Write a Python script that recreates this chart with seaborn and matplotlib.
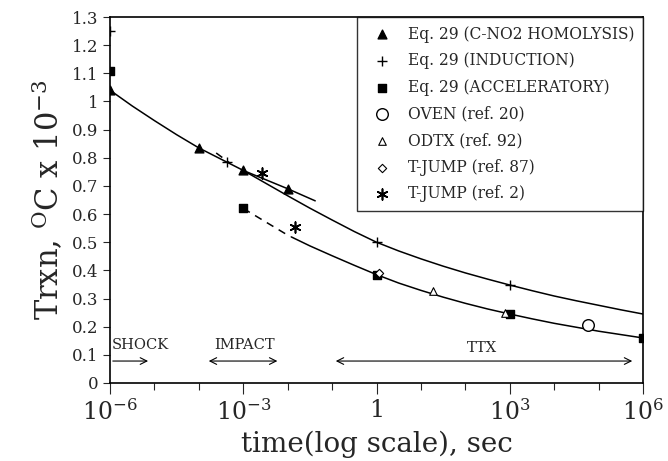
import numpy as np
import pandas as pd
import matplotlib
matplotlib.use('Agg')
import matplotlib.pyplot as plt
import seaborn as sns

# points (time in s, Trxn in 1e3 C)
homol_x = [1e-6, 1e-4, 1e-3, 1e-2]
homol_y = [1.04, 0.835, 0.755, 0.69]
induct_x = [1e-6, 10**-3.36, 1, 1e3]
induct_y = [1.25, 0.785, 0.50, 0.348]
accel_x = [1e-6, 1e-3, 1, 1e3, 1e6]
accel_y = [1.11, 0.62, 0.385, 0.245, 0.16]
oven_x = [10**4.77]
oven_y = [0.205]
odtx_x = [10**1.27, 10**2.9]
odtx_y = [0.327, 0.25]
tj87_x = [1.15]
tj87_y = [0.39]
tj2_x = [10**-2.58, 10**-1.83]
tj2_y = [0.745, 0.554]

# curves (log10 time, value)
upper_lx = [-6, -5.5, -5, -4.5, -4, -3.5, -3, -2.5, -2, -1.5, -1, -0.5, 0,
            0.5, 1, 1.5, 2, 2.5, 3, 3.5, 4, 4.5, 5, 5.5, 6]
upper_y = [1.04, 0.984, 0.932, 0.882, 0.835, 0.795, 0.755, 0.710, 0.665, 0.621,
           0.579, 0.538, 0.50, 0.469, 0.441, 0.415, 0.391, 0.369, 0.348, 0.328,
           0.309, 0.292, 0.276, 0.26, 0.245]
branch_lx = [-3, -2, -1.38]
branch_y = [0.755, 0.69, 0.647]
lower_lx = [-1.92, -1.5, -1, -0.5, 0, 0.5, 1, 1.5, 2, 2.5, 3, 3.5, 4, 4.5, 5, 5.5, 6]
lower_y = [0.519, 0.487, 0.452, 0.418, 0.385, 0.355, 0.329, 0.305, 0.283, 0.263,
           0.245, 0.228, 0.212, 0.198, 0.184, 0.172, 0.16]
dash1_lx = [-3, -2.04]
dash1_y = [0.62, 0.529]
dash2_lx = [-3.61, -3.30]
dash2_y = [0.817, 0.781]

sns.set_theme(style="ticks")
plt.rcParams['font.family'] = ['DejaVu Serif']
plt.rcParams['mathtext.fontset'] = 'dejavuserif'

fig = plt.figure(figsize=(6.68, 4.61), dpi=100)
ax = fig.add_axes([0.1647, 0.1692, 0.7979, 0.7939])

def curve(lx, y, ls='-'):
    d = pd.DataFrame({'t': np.power(10.0, lx), 'v': y})
    sns.lineplot(data=d, x='t', y='v', ax=ax, color='black', lw=1.1,
                 linestyle=ls, legend=False, sort=False)

curve(upper_lx, upper_y)
curve(branch_lx, branch_y)
curve(lower_lx, lower_y)
curve(dash1_lx, dash1_y, (0, (5, 4)))
curve(dash2_lx, dash2_y, (0, (5, 4)))

def pts(x, y, m, label, s=40, fc='black', lw=1.0):
    sns.scatterplot(x=x, y=y, ax=ax, marker=m, s=s, color=fc,
                    edgecolor='black', linewidth=lw, label=label, zorder=5)

pts(homol_x, homol_y, '^', 'Eq. 29 (C-NO2 HOMOLYSIS)', s=40)
pts(induct_x, induct_y, '+', 'Eq. 29 (INDUCTION)', s=50, lw=1.0)
pts(accel_x, accel_y, 's', 'Eq. 29 (ACCELERATORY)', s=40)
pts(oven_x, oven_y, 'o', 'OVEN (ref. 20)', s=70, fc='white')
pts(odtx_x, odtx_y, '^', 'ODTX (ref. 92)', s=30, fc='white', lw=0.8)
pts(tj87_x, tj87_y, 'D', 'T-JUMP (ref. 87)', s=18, fc='white', lw=0.8)
pts(tj2_x, tj2_y, (6, 2, 0), 'T-JUMP (ref. 2)', s=60, lw=1.2)

ax.set_xscale('log')
ax.set_xlim(1e-6, 1e6)
ax.set_ylim(0, 1.3)
ax.set_xticks([1e-6, 1e-3, 1, 1e3, 1e6])
ax.set_xticklabels([r'$10^{-6}$', r'$10^{-3}$', '1', r'$10^{3}$', r'$10^{6}$'], fontsize=17)
ax.set_xticks([10.0**k for k in range(-6, 7)], minor=True)
ax.tick_params(axis='x', which='minor', length=5, width=0.8, labelbottom=False)
ax.tick_params(axis='x', which='major', length=8, width=0.8)
yt = [i / 10 for i in range(14)]
ax.set_yticks(yt)
ax.set_yticklabels(['0' if v == 0 else ('1' if v == 1 else f'{v:g}') for v in yt], fontsize=12)
ax.tick_params(axis='y', length=5, width=0.8)
for s in ax.spines.values():
    s.set_linewidth(1.2)
    s.set_color('black')

ax.set_xlabel('time(log scale), sec', fontsize=20)
ax.set_ylabel(r'Trxn, $^{\rm O}$C x 10$^{-3}$', fontsize=22)

# regime arrows
arrow = dict(arrowstyle='->', color='black', lw=0.8)
arrow2 = dict(arrowstyle='<->', color='black', lw=0.8)
ax.annotate('', xy=(10**-5.08, 0.078), xytext=(1e-6, 0.078), arrowprops=arrow)
ax.text(10**-5.96, 0.135, 'SHOCK', fontsize=10.5, ha='left', va='center')
ax.annotate('', xy=(10**-3.84, 0.078), xytext=(10**-2.17, 0.078), arrowprops=arrow2)
ax.text(10**-2.96, 0.135, 'IMPACT', fontsize=10.5, ha='center', va='center')
ax.annotate('', xy=(10**-0.98, 0.078), xytext=(10**5.82, 0.078), arrowprops=arrow2)
ax.text(10**2.38, 0.124, 'TTX', fontsize=10.5, ha='center', va='center')

leg = ax.legend(loc='upper right', fontsize=11.2, frameon=True, fancybox=False,
                edgecolor='black', borderpad=0.55, labelspacing=0.62,
                handletextpad=0.7, borderaxespad=0.0)
leg.get_frame().set_linewidth(1.0)

fig.savefig('out.png', dpi=100)
